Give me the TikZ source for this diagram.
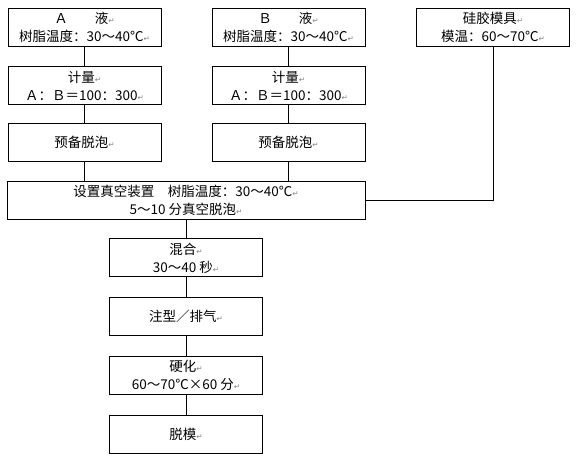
\documentclass[tikz,border=0pt]{standalone}
\usepackage{fontspec}
\setmainfont{Noto Sans CJK SC}
\newfontfamily\markfont{DejaVu Sans}
\usetikzlibrary{positioning}
\newcommand{\retmark}{{\markfont\fontsize{7.5}{7.5}\selectfont\color{gray}↵}}

\begin{document}
\begin{tikzpicture}[
        x=1pt, y=-1pt,
        font=\fontsize{13.5}{18}\selectfont,
        box/.style={
            draw=black,
            line width=0.9pt,
            align=center,
            minimum width=153pt,
            minimum height=38pt,
            inner sep=0pt
        },
        widebox/.style={
            box,
            minimum width=358pt
        },
        link/.style={
            line width=0.9pt
        },
        node distance=19pt
    ]
    \useasboundingbox (0,0) rectangle (576,462);

    % 上排
    \node[box] (liqA) at (84.5,27) {Ａ　　液\retmark\\树脂温度：30～40℃\retmark};
    \node[box, below=20pt of liqA] (measA) {计量\retmark\\Ａ：Ｂ＝100：300\retmark};
    \node[box, below=18pt of measA] (prepA) {预备脱泡\retmark};

    \node[box] (liqB) at (288.5,27) {Ｂ　　液\retmark\\树脂温度：30～40℃\retmark};
    \node[box, below=20pt of liqB] (measB) {计量\retmark\\Ａ：Ｂ＝100：300\retmark};
    \node[box, below=18pt of measB] (prepB) {预备脱泡\retmark};

    \node[box] (mold) at (493,27) {硅胶模具\retmark\\模温：60～70℃\retmark};

    % 真空脱泡
    \node[widebox] (vacuum) at (186,200) {
        设置真空装置　树脂温度：30～40℃\retmark\\
        5～10 分真空脱泡\retmark
    };

    % 下排
    \node[box, below=of vacuum] (mix) {混合\retmark\\30～40 秒\retmark};
    \node[box, below=20pt of mix] (pour) {注型／排气\retmark};
    \node[box, below=20pt of pour] (cure) {硬化\retmark\\60～70℃×60 分\retmark};
    \node[box, below=20pt of cure] (demold) {脱模\retmark};

    % 连线
    \draw[link] (liqA.south) -- (measA.north);
    \draw[link] (measA.south) -- (prepA.north);
    \draw[link] (prepA.south) -- (prepA.south |- vacuum.north);
    \draw[link] (liqB.south) -- (measB.north);
    \draw[link] (measB.south) -- (prepB.north);
    \draw[link] (prepB.south) -- (prepB.south |- vacuum.north);
    \draw[link] (mold.south) |- (vacuum.east);
    \draw[link] (vacuum.south -| mix.north) -- (mix.north);
    \draw[link] (mix.south) -- (pour.north);
    \draw[link] (pour.south) -- (cure.north);
    \draw[link] (cure.south) -- (demold.north);

\end{tikzpicture}
\end{document}
